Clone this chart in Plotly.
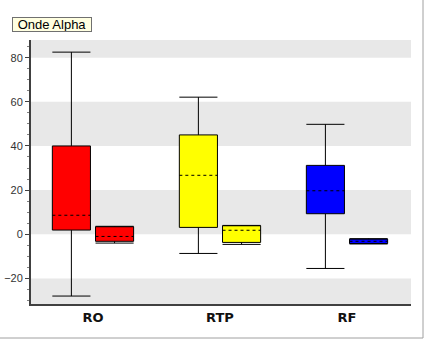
import plotly.graph_objects as go

# ---- data ----
categories = ["RO", "RTP", "RF"]
box_colors = ["#ff0000", "#ffff00", "#0000ff"]

main_max = [82.5, 62.1, 49.8]
main_q3 = [40.0, 45.0, 31.2]
main_mid = [8.6, 26.7, 19.7]
main_q1 = [1.9, 3.1, 9.3]
main_min = [-28.0, -8.7, -15.5]

sec_max = [3.6, 4.0, -2.0]
sec_q3 = [3.4, 3.85, -2.2]
sec_mid = [-1.0, 1.8, -3.2]
sec_q1 = [-3.2, -3.7, -4.2]
sec_min = [-4.0, -4.6, -4.4]

y_ticks = [-20, 0, 20, 40, 60, 80]

# ---- style ----
Y_RANGE = [-31.6, 88.0]
X_RANGE = [-0.488, 2.504]
OFFSET = 0.17
WIDTH = 0.30
AXIS_COL = "#404040"

fig = go.Figure()


def add_box(xc, lo, q1, mid, q3, hi, color):
    half = WIDTH / 2
    fig.add_trace(go.Bar(
        x=[xc], base=[q1], y=[q3 - q1], width=WIDTH,
        marker=dict(color=color, line=dict(color="black", width=1)),
        showlegend=False, hoverinfo="skip"))
    # whiskers and caps
    fig.add_trace(go.Scatter(
        x=[xc, xc, None, xc, xc, None,
           xc - half, xc + half, None, xc - half, xc + half],
        y=[q3, hi, None, q1, lo, None, hi, hi, None, lo, lo],
        mode="lines", line=dict(color="black", width=1),
        showlegend=False, hoverinfo="skip"))
    # dashed line
    fig.add_trace(go.Scatter(
        x=[xc - half, xc + half], y=[mid, mid], mode="lines",
        line=dict(color="black", width=1, dash="3px,3px"),
        showlegend=False, hoverinfo="skip"))


for i, cat in enumerate(categories):
    add_box(i - OFFSET, main_min[i], main_q1[i], main_mid[i], main_q3[i],
            main_max[i], box_colors[i])
    add_box(i + OFFSET, sec_min[i], sec_q1[i], sec_mid[i], sec_q3[i],
            sec_max[i], box_colors[i])

# alternating background bands
grey_bands = [(80, Y_RANGE[1]), (40, 60), (0, 20), (Y_RANGE[0], -20)]
shapes = []
for y0, y1 in grey_bands:
    shapes.append(dict(type="rect", xref="paper", yref="y", x0=0, x1=1,
                       y0=y0, y1=y1, fillcolor="#e8e8e8", line=dict(width=0),
                       layer="below"))
# outer frame (right and bottom edge)
shapes.append(dict(type="line", xref="paper", yref="paper", x0=1.0316, x1=1.0316,
                   y0=-0.1288, y1=1.16, line=dict(color="#a0a0a0", width=1)))
shapes.append(dict(type="line", xref="paper", yref="paper", x0=-0.09, x1=1.0316,
                   y0=-0.1288, y1=-0.1288, line=dict(color="#a0a0a0", width=1)))

fig.update_layout(
    width=424, height=339,
    margin=dict(l=31, r=13, t=40, b=35),
    paper_bgcolor="white", plot_bgcolor="white",
    shapes=shapes,
    barmode="overlay",
    showlegend=False,
    font=dict(family="Liberation Sans, Arial, sans-serif", color="#222"),
    annotations=[dict(
        text="Onde Alpha", xref="paper", yref="paper",
        x=-0.05, y=1.087, xanchor="left", yanchor="top",
        width=78, height=13, align="center",
        showarrow=False, font=dict(size=13, color="black",
                                   family="Liberation Sans, Arial, sans-serif"),
        bgcolor="#ffffe1", bordercolor="#707070", borderwidth=1, borderpad=0)],
)

fig.update_xaxes(
    range=X_RANGE, tickvals=list(range(len(categories))), ticktext=categories,
    showgrid=False, zeroline=False, showline=True, linecolor=AXIS_COL,
    linewidth=2, ticks="", fixedrange=True, automargin=False,
    tickfont=dict(size=13, color="#111", family="DejaVu Sans, sans-serif",
                  weight="bold"),
)
fig.update_yaxes(
    range=Y_RANGE, tickvals=y_ticks, showgrid=False, zeroline=False,
    showline=True, linecolor=AXIS_COL, linewidth=2, automargin=False,
    ticks="outside", ticklen=4, tickwidth=1, tickcolor=AXIS_COL,
    tickfont=dict(size=11, color="#333"),
    minor=dict(dtick=5, tick0=0, ticks="outside", ticklen=2, tickcolor="#808080"),
)

fig.write_html("out.html")
